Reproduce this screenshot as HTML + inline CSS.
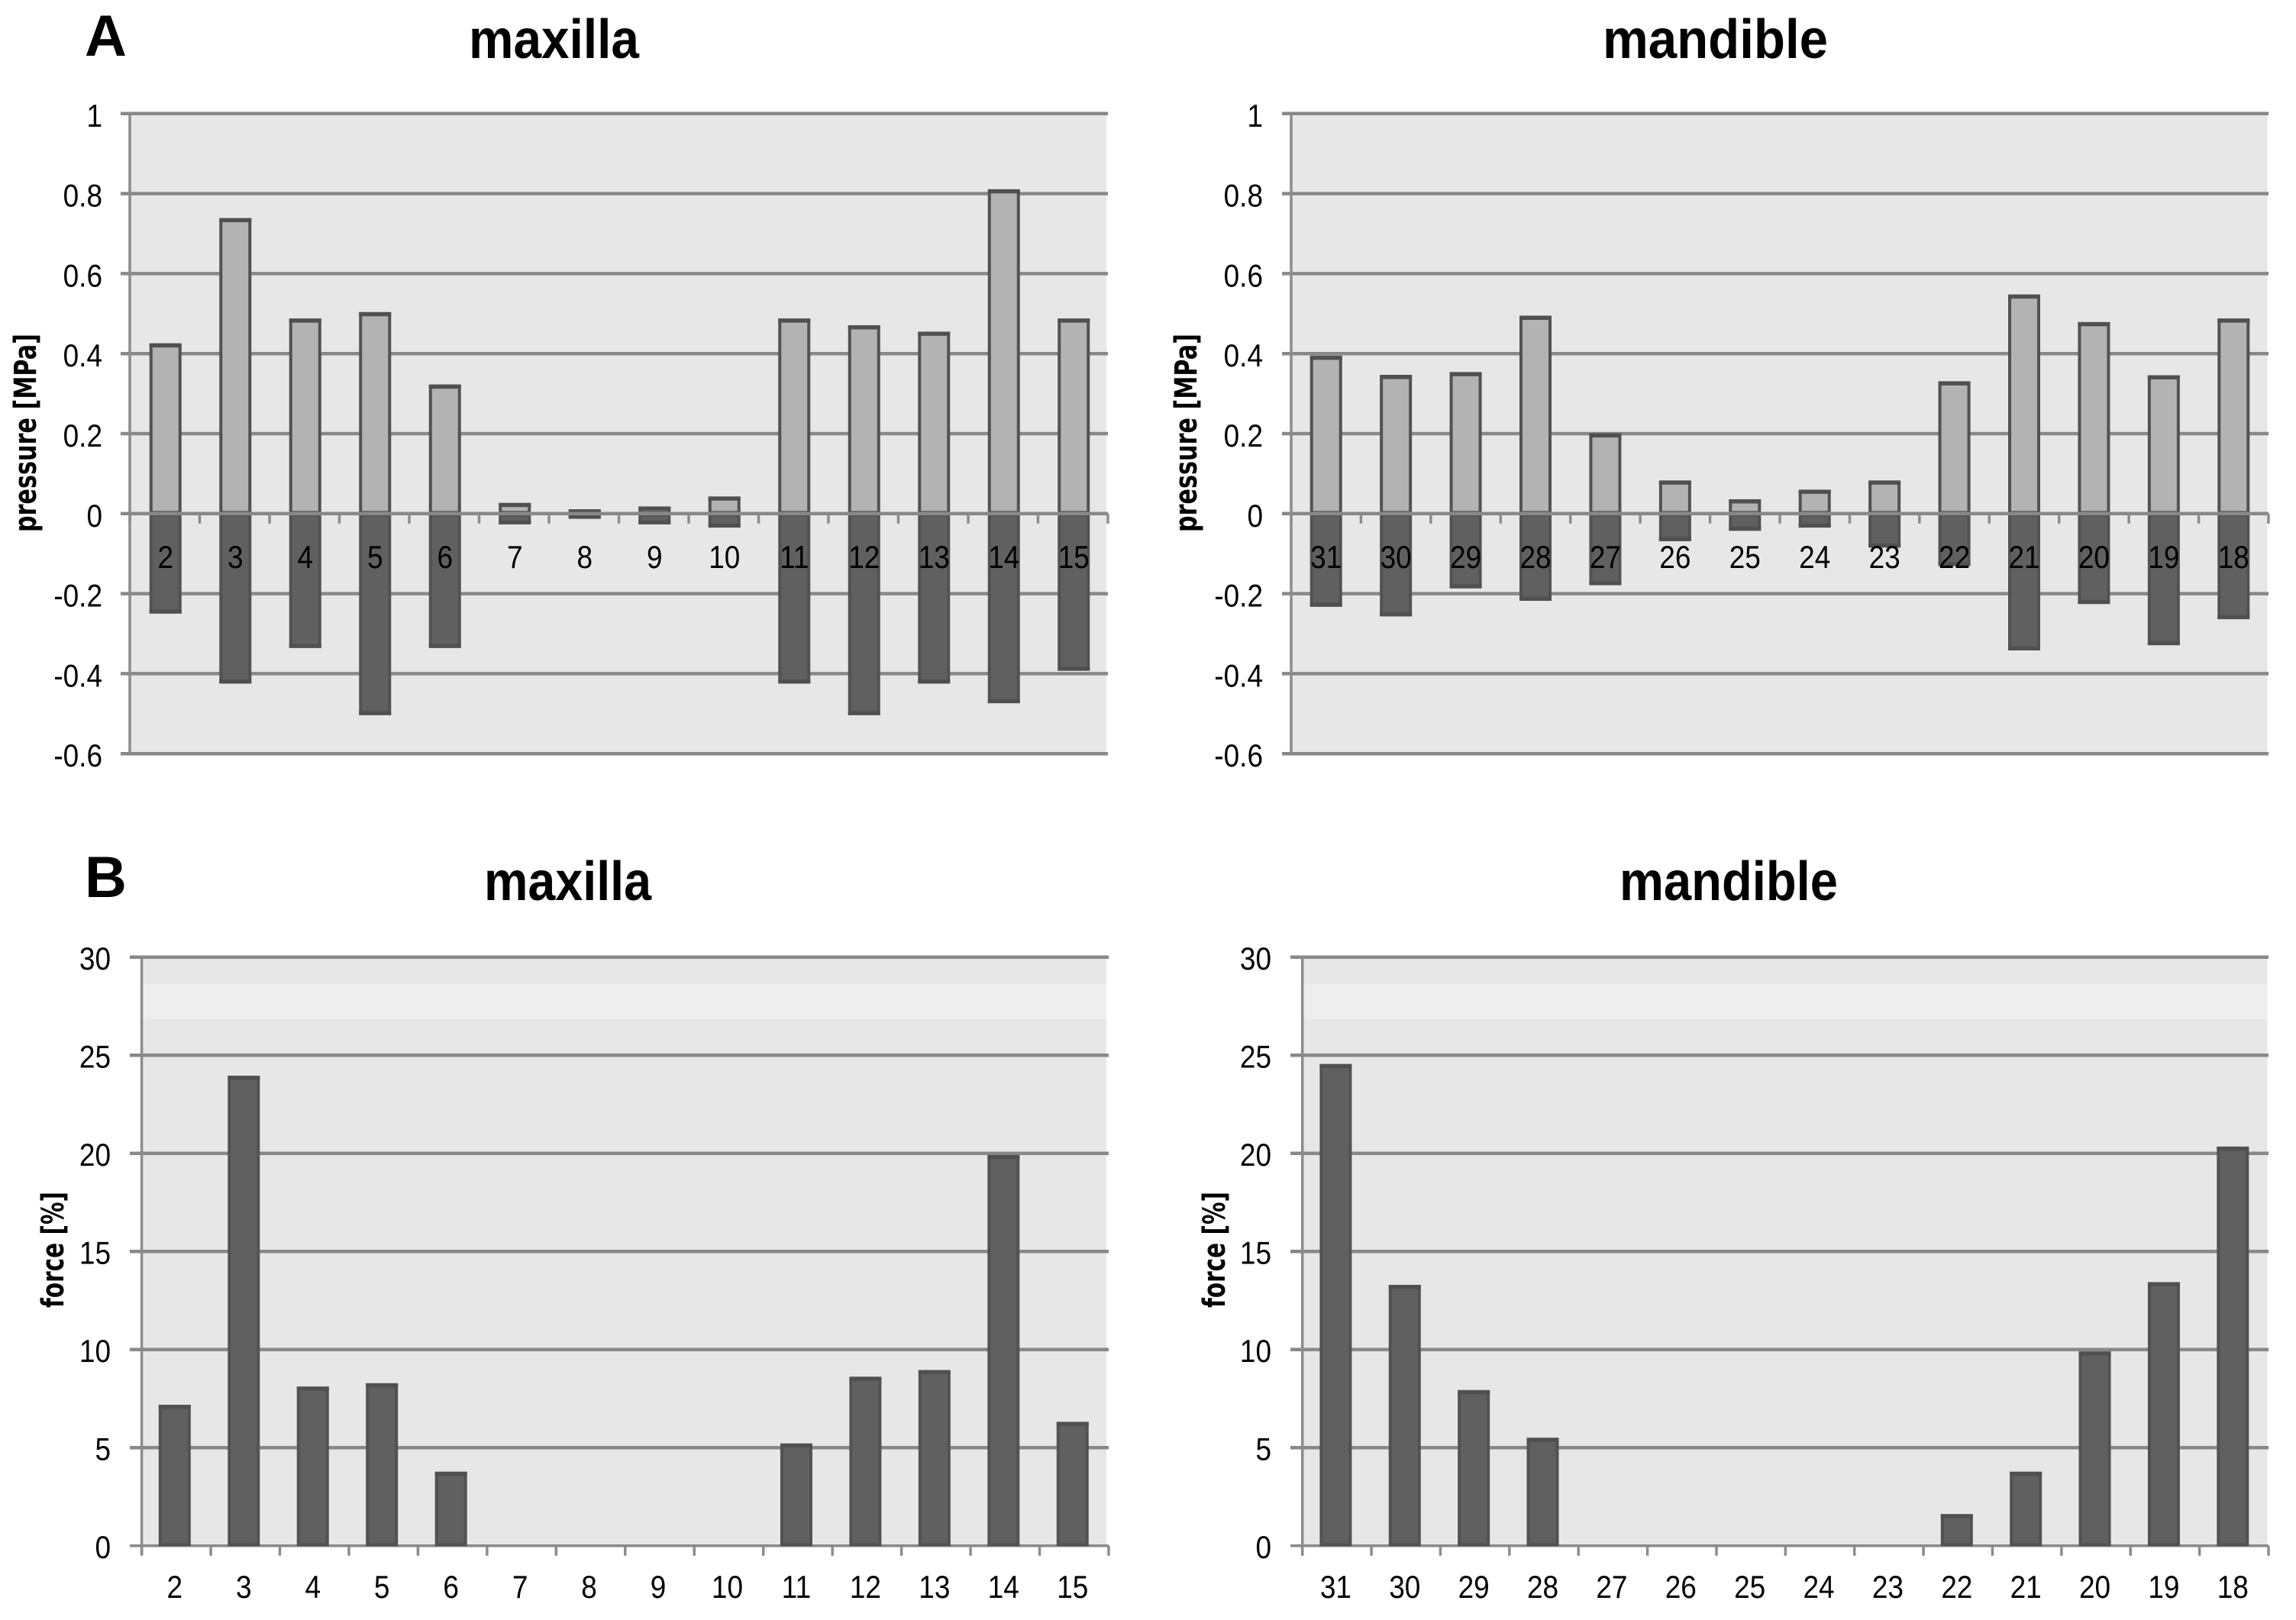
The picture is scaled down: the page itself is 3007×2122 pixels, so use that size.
<!DOCTYPE html>
<html>
<head>
<meta charset="utf-8">
<title>Pressure and force charts</title>
<style>
html,body{margin:0;padding:0;background:#fff;}
svg{display:block;}
text{font-family:"Liberation Sans",sans-serif;fill:#000;}
.title{font-weight:bold;font-size:72px;}
.panel{font-weight:bold;font-size:76px;}
.ytitle{font-family:"DejaVu Sans","Liberation Sans",sans-serif;font-weight:bold;font-size:40px;}
.tick{font-size:42px;}
</style>
</head>
<body>
<svg id="figure" xmlns="http://www.w3.org/2000/svg" width="3007" height="2122" viewBox="0 0 3007 2122">
<rect x="0" y="0" width="3007" height="2122" fill="#ffffff"/>
<text class="panel" x="111" y="73">A</text>
<text class="panel" x="111" y="1175">B</text>
<text class="title" x="614" y="76" textLength="223" lengthAdjust="spacingAndGlyphs">maxilla</text>
<text class="title" x="2099" y="76" textLength="295" lengthAdjust="spacingAndGlyphs">mandible</text>
<text class="title" x="634" y="1179" textLength="219" lengthAdjust="spacingAndGlyphs">maxilla</text>
<text class="title" x="2121" y="1179" textLength="286" lengthAdjust="spacingAndGlyphs">mandible</text>
</svg>
<script>
const maxillaTeeth = ['2','3','4','5','6','7','8','9','10','11','12','13','14','15'];
const mandibleTeeth = ['31','30','29','28','27','26','25','24','23','22','21','20','19','18'];
const pressureTicks = [1,0.8,0.6,0.4,0.2,0,-0.2,-0.4,-0.6];
const forceTicks = [30,25,20,15,10,5,0];
const maxillaPressurePos = [0.425,0.738,0.487,0.503,0.322,0.026,0.01,0.017,0.042,0.487,0.47,0.454,0.81,0.487];
const maxillaPressureNeg = [-0.249,-0.424,-0.335,-0.503,-0.335,-0.026,-0.012,-0.026,-0.034,-0.424,-0.503,-0.424,-0.473,-0.392];
const mandiblePressurePos = [0.394,0.346,0.353,0.494,0.2,0.082,0.035,0.059,0.082,0.33,0.547,0.478,0.345,0.487];
const mandiblePressureNeg = [-0.232,-0.256,-0.186,-0.217,-0.178,-0.068,-0.042,-0.034,-0.084,-0.13,-0.341,-0.225,-0.328,-0.263];
const maxillaForce = [7.17,23.94,8.1,8.27,3.76,0,0,0,0,5.2,8.6,8.94,19.9,6.3];
const mandibleForce = [24.54,13.28,7.92,5.49,0,0,0,0,0,1.6,3.76,9.89,13.42,20.33];

const svg = document.getElementById('figure');
const NS = 'http://www.w3.org/2000/svg';
function make(tag, attrs, parent) {
  const el = document.createElementNS(NS, tag);
  for (const k in attrs) el.setAttribute(k, attrs[k]);
  (parent || svg).appendChild(el);
  return el;
}
function yPressure(v) { return 672.8 - 524 * v; }
function yForce(v) { return 2024.8 - 25.7 * v; }
function xBand(frame, i) { return frame.left + (frame.right - frame.left) / 14 * i; }
function xCenter(frame, i) { return xBand(frame, i + 0.5) + frame.shift; }
function narrow(x, y) { return 'translate(' + x + ',' + y + ') scale(0.88,1)'; }

function drawFrame(frame, ticks, yScale, chartName) {
  const g = make('g', {});
  
  
  const top = yScale(ticks[0]);
  const bottom = yScale(ticks[ticks.length - 1]);
  const bg = make('rect', {x: frame.left, y: top, width: frame.bgRight - frame.left, height: bottom - top, fill: '#e7e7e7'}, g);
  
  
  if (frame.band) {
    const band = make('rect', {x: frame.left, y: 1289, width: frame.bgRight - frame.left, height: 46.5, fill: '#eeeeee'}, g);
    
    
  }
  ticks.forEach(function (t) {
    const line = make('line', {x1: frame.tickLeft, x2: frame.right, y1: yScale(t), y2: yScale(t), stroke: '#888888', 'stroke-width': t === frame.baseValue && frame.band ? 3.5 : 4.5}, g);
    
    
    const label = make('text', {class: 'tick', transform: narrow(frame.labelRight, yScale(t) + frame.labelDy), 'text-anchor': 'end'}, g);
    
    
    label.textContent = String(t);
  });
  const axis = make('line', {x1: frame.left, x2: frame.left, y1: top, y2: bottom + (frame.band ? 12 : 0), stroke: '#8c8c8c', 'stroke-width': 3.5}, g);
  
  
  return g;
}

function drawXAxis(frame, categories, yScale, labelY, parent) {
  const y0 = yScale(frame.baseValue);
  for (let i = 0; i <= categories.length; i++) {
    const tick = make('line', {x1: xBand(frame, i), x2: xBand(frame, i), y1: y0, y2: y0 + 13, stroke: '#8c8c8c', 'stroke-width': 3.5}, parent);
    
    
  }
  categories.forEach(function (c, i) {
    const label = make('text', {class: 'tick', transform: narrow(xCenter(frame, i), labelY), 'text-anchor': 'middle'}, parent);
    
    
    label.textContent = c;
  });
}

function drawBar(frame, i, v, yScale, fill, parent, name) {
  if (v === 0) return;
  const yA = yScale(v), yB = yScale(0);
  const w = frame.barWidth;
  const bar = make('rect', {
    x: xCenter(frame, i) - w / 2,
    y: Math.min(yA, yB) + 1.5,
    width: w,
    height: Math.max(Math.abs(yB - yA) - 3, 1),
    fill: fill,
    stroke: '#525252',
    'stroke-width': 4
  }, parent);
  
  
  const cap = make('line', {
    x1: xCenter(frame, i) - w / 2 - 2,
    x2: xCenter(frame, i) + w / 2 + 2,
    y1: yA + (v > 0 ? 2.5 : -2.5),
    y2: yA + (v > 0 ? 2.5 : -2.5),
    stroke: '#505050',
    'stroke-width': 5
  }, parent);
  
  
}

function pressureChart(frame, categories, pos, neg, chartName) {
  const g = drawFrame(frame, pressureTicks, yPressure, chartName);
  categories.forEach(function (c, i) {
    drawBar(frame, i, pos[i], yPressure, '#b3b3b3', g, 'bar-positive-' + c);
    drawBar(frame, i, neg[i], yPressure, '#606060', g, 'bar-negative-' + c);
  });
  const zero = make('line', {x1: frame.left, x2: frame.right, y1: yPressure(0), y2: yPressure(0), stroke: '#888888', 'stroke-width': 4.5}, g);
  
  
  drawXAxis(frame, categories, yPressure, 744, g);
}

function forceChart(frame, categories, values, chartName) {
  const g = drawFrame(frame, forceTicks, yForce, chartName);
  categories.forEach(function (c, i) {
    drawBar(frame, i, values[i], yForce, '#606060', g, 'bar-force-' + c);
  });
  drawXAxis(frame, categories, yForce, 2093, g);
}

function yTitle(text, x, yCenter, length, name) {
  const t = make('text', {class: 'ytitle', transform: 'translate(' + x + ',' + yCenter + ') rotate(-90)', 'text-anchor': 'middle', textLength: length, lengthAdjust: 'spacingAndGlyphs'});
  
  
  t.textContent = text;
}

pressureChart({left: 170, right: 1451, bgRight: 1449, tickLeft: 158, labelRight: 134, labelDy: 17, baseValue: 0, barWidth: 38, shift: 1, band: false}, maxillaTeeth, maxillaPressurePos, maxillaPressureNeg, 'pressure-maxilla');
pressureChart({left: 1691, right: 2971, bgRight: 2969.5, tickLeft: 1679, labelRight: 1654, labelDy: 17, baseValue: 0, barWidth: 38, shift: 0, band: false}, mandibleTeeth, mandiblePressurePos, mandiblePressureNeg, 'pressure-mandible');
forceChart({left: 185.6, right: 1452, bgRight: 1449, tickLeft: 170, labelRight: 145, labelDy: 16, baseValue: 0, barWidth: 38, shift: -2, band: true}, maxillaTeeth, maxillaForce, 'force-maxilla');
forceChart({left: 1705.7, right: 2971, bgRight: 2969.5, tickLeft: 1690, labelRight: 1665, labelDy: 16, baseValue: 0, barWidth: 38, shift: -1.5, band: true}, mandibleTeeth, mandibleForce, 'force-mandible');

yTitle('pressure [MPa]', 47, 567, 260, 'y-axis-title-pressure-maxilla');
yTitle('pressure [MPa]', 1567, 567, 260, 'y-axis-title-pressure-mandible');
yTitle('force [%]', 83, 1637, 152, 'y-axis-title-force-maxilla');
yTitle('force [%]', 1604, 1637, 152, 'y-axis-title-force-mandible');
</script>
</body>
</html>
